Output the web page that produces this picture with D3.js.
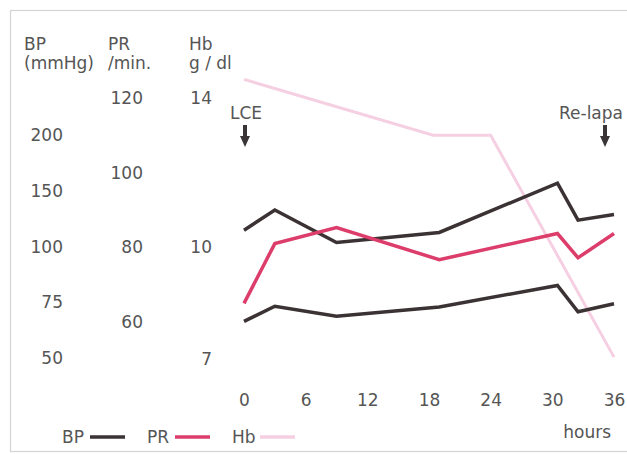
<!DOCTYPE html>
<html>
<head>
<meta charset="utf-8">
<script src="https://cdn.jsdelivr.net/npm/d3@7"></script>
<style>
  body { margin: 0; background: #fff; }
  text { font-family: "DejaVu Sans", sans-serif; fill: #555; }
</style>
</head>
<body>
<div id="chart"></div>
<script>
// hours after LCE
const bpHours = [0, 3, 9, 19, 30.5, 32.5, 36];
const bpSys = [115, 133, 104, 113, 157, 124, 129];
const bpDia = [66.5, 73.3, 68.8, 73, 82.7, 70.8, 74.4];
const prHours = [0, 3, 9, 19, 30.5, 32.5, 36];
const prVals = [65, 81, 85.3, 76.7, 83.7, 77.2, 83.7];
const hbHours = [0, 18.4, 24, 36];
const hbVals = [14.5, 13, 13, 7.05];

const hourTicks = [0, 6, 12, 18, 24, 30, 36];
const bpTicks = [50, 75, 100, 150, 200];
const prTicks = [60, 80, 100, 120];
const hbTicks = [7, 10, 14];
const events = [{ label: "LCE", h: 0 }, { label: "Re-lapa", h: 36 }];

const width = 627, height = 454;
const FS = "17px";
const svg = d3.select("#chart").append("svg")
    .attr("width", width)
    .attr("height", height);

// frame
svg.append("rect")
    .attr("x", 10.5).attr("y", 10.5)
    .attr("width", 640).attr("height", 441)
    .attr("fill", "none")
    .attr("stroke", "#d4d4d4")
    .attr("stroke-width", 1.2);

const x = d3.scaleLinear().domain([0, 36]).range([244, 614]);
// BP axis is not linear: 25 per step below 100, 50 per step above
const yBP = d3.scaleLinear().domain([50, 100, 200]).range([358, 247, 135]);
const yPR = d3.scaleLinear().domain([60, 120]).range([322, 98]);
const yHb = d3.scaleLinear().domain([7, 14]).range([359, 98]);

// axis headers
const headers = [
    { x: 24, lines: ["BP", "(mmHg)"] },
    { x: 108, lines: ["PR", "/min."] },
    { x: 189, lines: ["Hb", "g / dl"] },
];
headers.forEach(h => {
    h.lines.forEach((t, i) => {
        svg.append("text")
            .attr("x", h.x).attr("y", 50 + i * 19)
            .attr("font-size", FS)
            .text(t);
    });
});

function yAxis(scale, ticks, xr) {
    const g = svg.append("g").attr("transform", `translate(${xr},0)`)
        .call(d3.axisLeft(scale).tickValues(ticks).tickFormat(d3.format("d"))
            .tickSize(0).tickPadding(0));
    g.select(".domain").remove();
    g.selectAll("text")
        .attr("font-size", FS)
        .attr("font-family", null)
        .attr("fill", null);
}
yAxis(yBP, bpTicks, 63);
yAxis(yPR, prTicks, 143);
yAxis(yHb, hbTicks, 212);

const xg = svg.append("g").attr("transform", "translate(0,394)")
    .call(d3.axisBottom(x).tickValues(hourTicks).tickSize(0).tickPadding(0));
xg.select(".domain").remove();
xg.selectAll("text")
    .attr("font-size", FS)
    .attr("font-family", null)
    .attr("fill", null);

svg.append("text")
    .attr("x", 611).attr("y", 438)
    .attr("text-anchor", "end")
    .attr("font-size", FS)
    .text("hours");

// event markers
events.forEach((e, i) => {
    const cx = x(e.h) + (i === 1 ? -9 : 1);
    svg.append("text")
        .attr("x", i === 0 ? x(e.h) - 14 : 623)
        .attr("y", 119)
        .attr("text-anchor", i === 0 ? "start" : "end")
        .attr("font-size", FS)
        .text(e.label);
    svg.append("rect")
        .attr("x", cx - 2).attr("y", 125)
        .attr("width", 4).attr("height", 12)
        .attr("fill", "#3a3536");
    svg.append("path")
        .attr("d", `M${cx - 5},136 L${cx + 5},136 L${cx},147 Z`)
        .attr("fill", "#3a3536");
});

const line = (xs, ys, yScale) => d3.line()
    .x((d, i) => x(xs[i]))
    .y(d => yScale(d))(ys);

svg.append("path")
    .attr("d", line(hbHours, hbVals, yHb))
    .attr("fill", "none")
    .attr("stroke", "#f5cfe2")
    .attr("stroke-width", 3);

[bpSys, bpDia].forEach(vals => {
    svg.append("path")
        .attr("d", line(bpHours, vals, yBP))
        .attr("fill", "none")
        .attr("stroke", "#3b3234")
        .attr("stroke-width", 3.5);
});

svg.append("path")
    .attr("d", line(prHours, prVals, yPR))
    .attr("fill", "none")
    .attr("stroke", "#dc3d6b")
    .attr("stroke-width", 3.5);

// legend
const legend = [
    { label: "BP", color: "#3b3234", x: 62 },
    { label: "PR", color: "#dc3d6b", x: 147 },
    { label: "Hb", color: "#f5cfe2", x: 232 },
];
legend.forEach(l => {
    svg.append("text")
        .attr("x", l.x).attr("y", 443)
        .attr("font-size", FS)
        .text(l.label);
    svg.append("line")
        .attr("x1", l.x + 28).attr("x2", l.x + 63)
        .attr("y1", 437).attr("y2", 437)
        .attr("stroke", l.color)
        .attr("stroke-width", 3.5);
});
</script>
</body>
</html>
